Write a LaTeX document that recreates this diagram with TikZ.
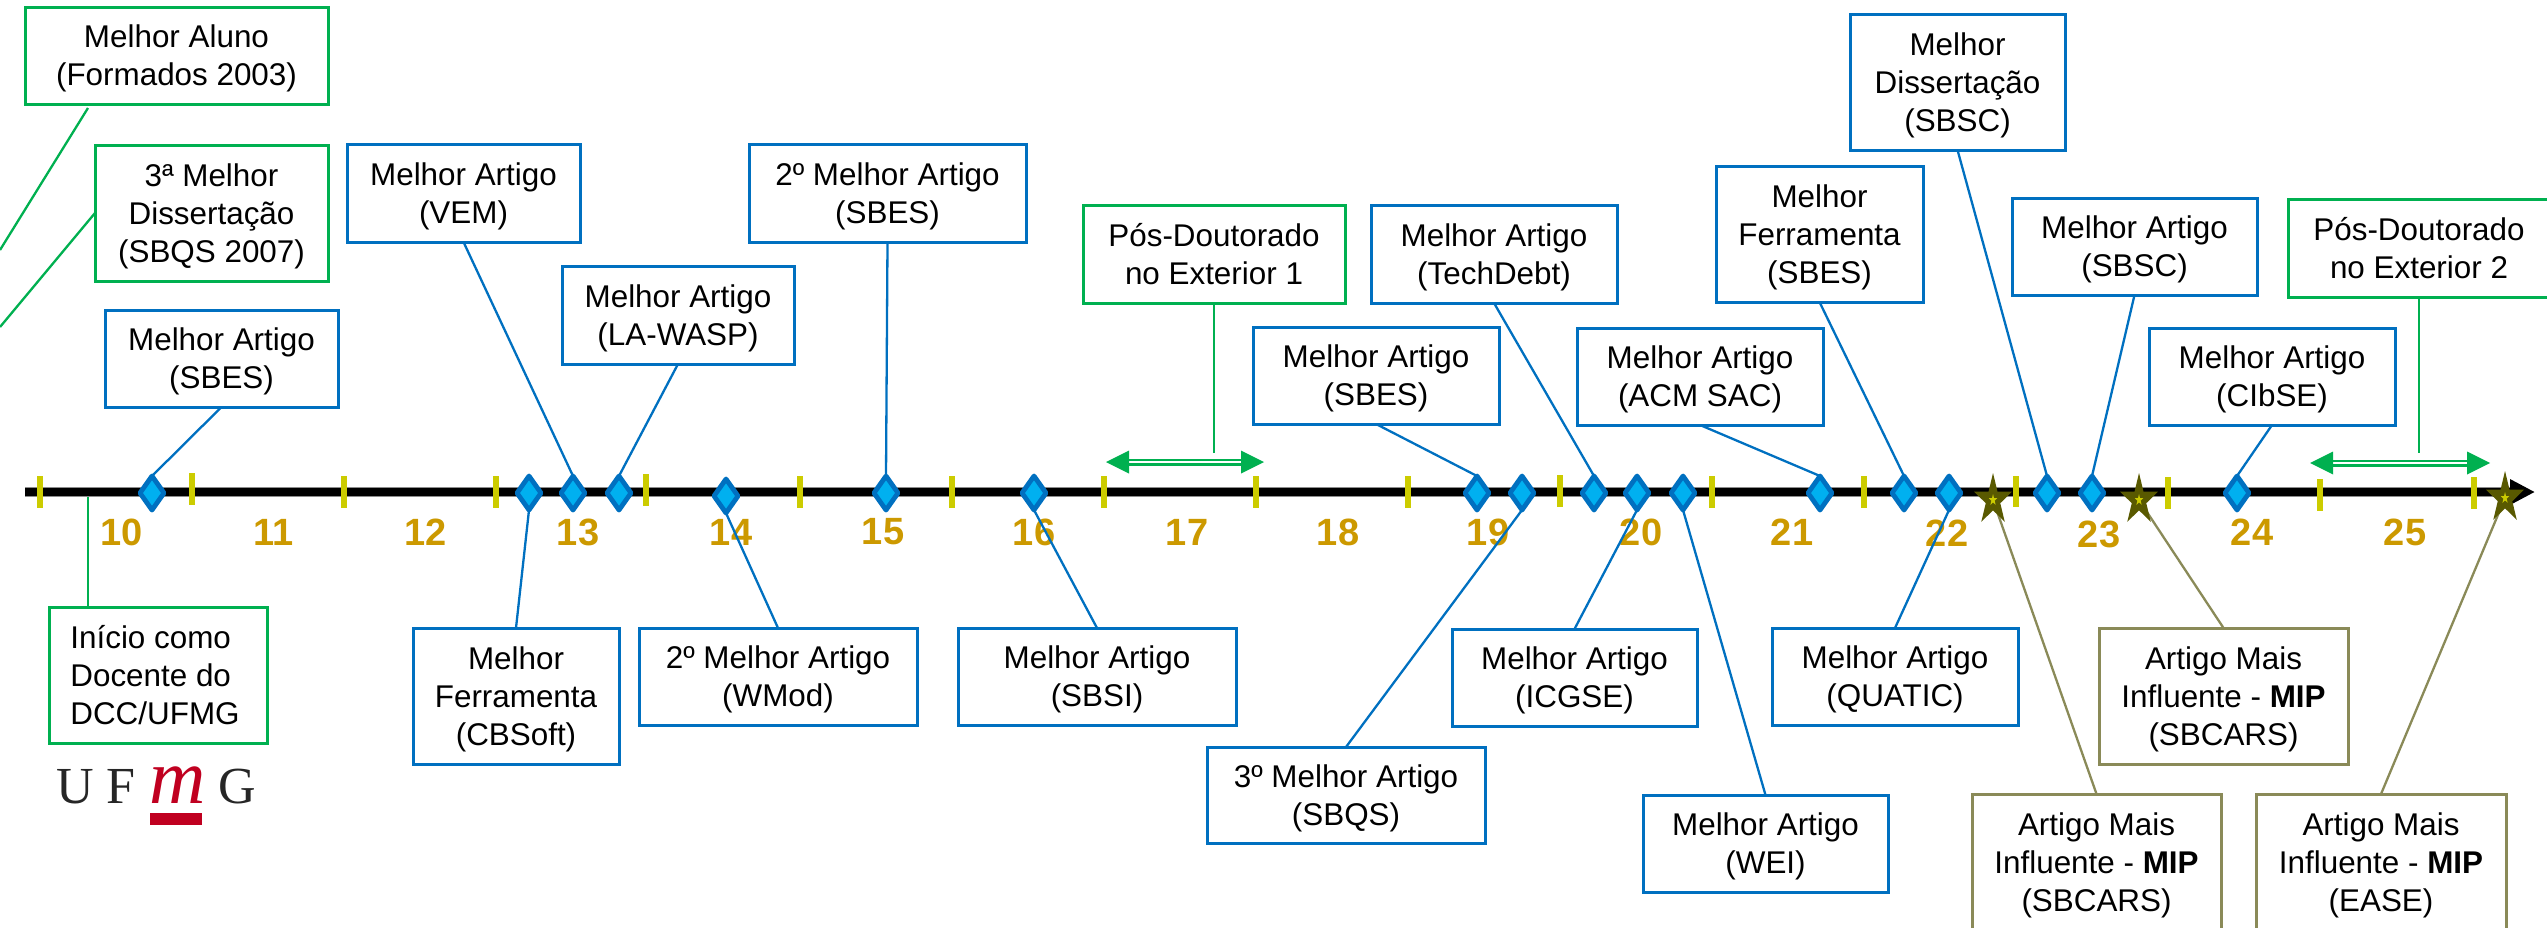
\documentclass[tikz,border=0pt]{standalone}
\usepackage{fontspec}
\setmainfont{Liberation Sans}
\newfontfamily\logofont{Liberation Serif}
\usetikzlibrary{shapes.geometric,arrows.meta}
\definecolor{cblue}{HTML}{0070C0}
\definecolor{cfill}{HTML}{00B0F0}
\definecolor{cgreen}{HTML}{00B050}
\definecolor{colive}{HTML}{8A8A58}
\definecolor{cstar}{HTML}{595900}
\definecolor{ctick}{HTML}{CCCC00}
\definecolor{cyear}{HTML}{CC9900}
\definecolor{clogo}{HTML}{C00020}
\pgfdeclarelayer{labels}
\pgfdeclarelayer{conn}
\pgfsetlayers{labels,conn,main}
\tikzset{
  awardbox/.style={draw,line width=1.5pt,fill=white,inner sep=0pt,outer sep=0pt,align=center,
    text depth=0.2pt,
    font=\fontsize{15.7}{19}\selectfont},
  bluebox/.style={awardbox,draw=cblue},
  greenbox/.style={awardbox,draw=cgreen},
  olivebox/.style={awardbox,draw=colive},
  blueline/.style={cblue,line width=1.15pt},
  greenline/.style={cgreen,line width=1.15pt},
  oliveline/.style={colive,line width=1.15pt},
  awardmark/.style={diamond,draw=cblue,fill=cfill,line width=2.4pt,line join=round,inner sep=0pt,outer sep=0pt,
    minimum width=12pt,minimum height=17pt},
  tickmark/.style={ctick,line width=2.8pt},
  yearlabel/.style={text=cyear,font=\fontsize{19}{19}\selectfont\bfseries,inner sep=0pt},
  bigstar/.style={star,star points=5,star point ratio=2.618,fill=cstar,draw=none,inner sep=0pt,outer sep=0pt,minimum size=27pt},
  smallstar/.style={star,star points=5,star point ratio=2.618,fill=ctick,draw=none,inner sep=0pt,outer sep=0pt,minimum size=6pt},
  logotext/.style={inner sep=0pt,text=black!85,font=\fontsize{26}{26}\selectfont\logofont},
}
% #1 style, #2 name, #3 x1, #4 y1, #5 x2, #6 y2, #7 text
\newcommand{\awardbx}[7]{\node[#1,minimum width={(#5-#3)*0.5pt},minimum height={(#6-#4)*0.5pt}]
  (#2) at ({(#3+#5)/2},{(#4+#6)/2}) {#7};}
\newcommand{\dm}[3]{\node[awardmark] (#1) at (#2,#3) {};}
\newcommand{\tk}[3]{\draw[tickmark] (#1,#2) -- (#1,#3);}
\newcommand{\yr}[3]{\begin{pgfonlayer}{labels}\node[yearlabel] (y#1) at (#2,#3) {#1};\end{pgfonlayer}}
\newcommand{\mk}[3]{\begin{scope}[shift={(#2,#3)},xscale=.74,transform shape]
  \node[bigstar] (#1) at (0,0) {};
  \node[smallstar] (#1i) at (0,0) {};
\end{scope}}
\newcommand{\dbl}[4]{% name, x1, x2, y
  \coordinate (#1a) at (#2,#4); \coordinate (#1b) at (#3,#4);
  \draw[cgreen,line width=3.5pt] (#1a) -- (#1b);
  \draw[white,line width=1pt] (#1a) -- (#1b);
  \fill[cgreen] (#1a) ++(-23,0) -- ++(23,-11.5) -- ++(0,23) -- cycle;
  \fill[cgreen] (#1b) ++(23,0) -- ++(-23,-11.5) -- ++(0,23) -- cycle;}
\begin{document}
\begin{tikzpicture}[x=0.5pt,y=-0.5pt]
\useasboundingbox (0,0) rectangle (2547,927);
\clip (0,0) rectangle (2547,927);
% timeline
\coordinate (tlA) at (25,492);
\coordinate (tlB) at (2535,492);
\draw[black!45,line width=4.6pt] (tlA) -- (2515,492);
\draw[black,line width=4pt,-{Triangle[length=12.5pt,width=12pt]}] (tlA) -- (tlB);
% ticks
\tk{40}{476}{508}\tk{192}{473}{505}\tk{344}{476}{508}\tk{496}{476}{508}\tk{646}{474}{506}
\tk{800}{476}{508}\tk{952}{476}{508}\tk{1104}{476}{508}\tk{1256}{476}{508}\tk{1408}{476}{508}
\tk{1560}{475}{507}\tk{1712}{476}{508}\tk{1864}{476}{508}\tk{2016}{476}{507}\tk{2168}{477}{509}
\tk{2320}{479}{511}\tk{2474}{477}{509}
% years
\yr{10}{122}{532}\yr{11}{274}{532}\yr{12}{426}{532}\yr{13}{578}{532}\yr{14}{731}{532}
\yr{15}{883}{532}\yr{16}{1034}{532}\yr{17}{1187}{532}\yr{18}{1338}{532}\yr{19}{1488}{532}
\yr{20}{1641}{532}\yr{21}{1792}{532}\yr{22}{1947}{533}\yr{23}{2099}{534}\yr{24}{2252}{532}\yr{25}{2405}{532}
% diamonds
\dm{d1}{152}{493}\dm{d2}{529}{493}\dm{d3}{573}{493}\dm{d4}{619}{493}\dm{d5}{726}{496}
\dm{d6}{886}{493}\dm{d7}{1034}{493}\dm{d8}{1477}{493}\dm{d9}{1522}{493}\dm{d10}{1594}{493}
\dm{d11}{1637}{493}\dm{d12}{1683}{493}\dm{d13}{1820}{493}\dm{d14}{1904}{493}\dm{d15}{1949}{493}
\dm{d16}{2047}{493}\dm{d17}{2092}{493}\dm{d18}{2237}{493}
% stars
\mk{s1}{1993}{500}\mk{s2}{2139}{500}\mk{s3}{2505}{498}
% green boxes
\awardbx{greenbox}{aluno}{25}{7}{328}{104}{Melhor Aluno\\(Formados 2003)}
\awardbx{greenbox}{dq}{95}{145}{328}{281}{3ª Melhor\\Dissertação\\(SBQS 2007)}
\awardbx{greenbox,align=left}{inicio}{49}{607}{267}{743}{Início como\\Docente do\\DCC/UFMG\hspace*{3pt}}
\awardbx{greenbox}{pd1}{1083}{205}{1345}{303}{Pós-Doutorado\\no Exterior 1}
\awardbx{greenbox}{pd2}{2288}{199}{2550}{297}{Pós-Doutorado\\no Exterior 2}
% blue boxes, top
\awardbx{bluebox}{b1}{105}{310}{338}{407}{Melhor Artigo\\(SBES)}
\awardbx{bluebox}{b3}{347}{144}{580}{242}{Melhor Artigo\\(VEM)}
\awardbx{bluebox}{b4}{562}{266}{794}{364}{Melhor Artigo\\(LA-WASP)}
\awardbx{bluebox}{b6}{749}{144}{1026}{242}{2º Melhor Artigo\\(SBES)}
\awardbx{bluebox}{b8}{1253}{327}{1499}{424}{Melhor Artigo\\(SBES)}
\awardbx{bluebox}{b10}{1371}{205}{1617}{303}{Melhor Artigo\\(TechDebt)}
\awardbx{bluebox}{b13}{1577}{328}{1823}{425}{Melhor Artigo\\(ACM SAC)}
\awardbx{bluebox}{b14}{1716}{166}{1923}{302}{Melhor\\Ferramenta\\(SBES)}
\awardbx{bluebox}{b16}{1850}{14}{2065}{150}{Melhor\\Dissertação\\(SBSC)}
\awardbx{bluebox}{b17}{2012}{198}{2257}{295}{Melhor Artigo\\(SBSC)}
\awardbx{bluebox}{b18}{2149}{328}{2395}{425}{Melhor Artigo\\(CIbSE)}
% blue boxes, bottom
\awardbx{bluebox}{b2}{413}{628}{619}{764}{Melhor\\Ferramenta\\(CBSoft)}
\awardbx{bluebox}{b5}{639}{628}{917}{725}{2º Melhor Artigo\\(WMod)}
\awardbx{bluebox}{b7}{958}{628}{1236}{725}{Melhor Artigo\\(SBSI)}
\awardbx{bluebox}{b9}{1207}{747}{1485}{843}{3º Melhor Artigo\\(SBQS)}
\awardbx{bluebox}{b11}{1452}{629}{1697}{726}{Melhor Artigo\\(ICGSE)}
\awardbx{bluebox}{b12}{1643}{795}{1888}{892}{Melhor Artigo\\(WEI)}
\awardbx{bluebox}{b15}{1772}{628}{2018}{725}{Melhor Artigo\\(QUATIC)}
% olive boxes
\awardbx{olivebox}{m2}{2099}{628}{2348}{764}{Artigo Mais\\Influente - \textbf{MIP}\\(SBCARS)}
\awardbx{olivebox}{m1}{1972}{794}{2221}{930}{Artigo Mais\\Influente - \textbf{MIP}\\(SBCARS)}
\awardbx{olivebox}{m3}{2256}{794}{2506}{930}{Artigo Mais\\Influente - \textbf{MIP}\\(EASE)}
% double arrows
\dbl{p}{1129}{1241}{462}
\dbl{q}{2333}{2467}{463}
% logo
\node[logotext,anchor=base] (lU) at (75,803) {U};
\node[logotext,anchor=base] (lF) at (121,803) {F};
\node[inner sep=0pt,anchor=base,text=clogo,font=\fontsize{39}{39}\selectfont\logofont\itshape] (lm) at (178,803) {m};
\node[logotext,anchor=base] (lG) at (237,803) {G};
\fill[clogo] (150,813) rectangle (202,825);
% connectors
\begin{pgfonlayer}{conn}
\coordinate (fa) at (0,250);
\coordinate (fb) at (0,327);
\coordinate (ga) at (88,108);
\coordinate (gb) at (88,497);
\coordinate (gc) at (1214,453);
\coordinate (gd) at (2419,453);
\draw[greenline] (ga) -- (fa);
\draw[greenline] (dq.west) -- (fb);
\draw[greenline] (gb) -- (inicio.north -| gb);
\draw[greenline] (pd1.south -| gc) -- (gc);
\draw[greenline] (pd2.south -| gd) -- (gd);
\draw[blueline] (b1.south) -- (d1.north);
\draw[blueline] (b2.north) -- (d2.south);
\draw[blueline] (b3.south) -- (d3.north);
\draw[blueline] (b4.south) -- (d4.north);
\draw[blueline] (b5.north) -- (d5.south);
\draw[blueline] (b6.south) -- (d6.north);
\draw[blueline] (b7.north) -- (d7.south);
\draw[blueline] (b8.south) -- (d8.north);
\draw[blueline] (b9.north) -- (d9.south);
\draw[blueline] (b10.south) -- (d10.north);
\draw[blueline] (b11.north) -- (d11.south);
\draw[blueline] (b12.north) -- (d12.south);
\draw[blueline] (b13.south) -- (d13.north);
\draw[blueline] (b14.south) -- (d14.north);
\draw[blueline] (b15.north) -- (d15.south);
\draw[blueline] (b16.south) -- (d16.north);
\draw[blueline] (b17.south) -- (d17.north);
\draw[blueline] (b18.south) -- (d18.north);
\draw[oliveline] (m1.north) -- (s1.center);
\draw[oliveline] (m2.north) -- (s2.center);
\draw[oliveline] (m3.north) -- (s3.center);
\end{pgfonlayer}
\end{tikzpicture}
\end{document}
